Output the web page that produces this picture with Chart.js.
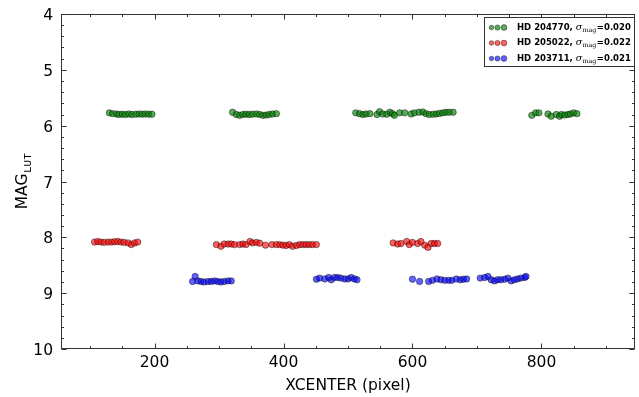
<!DOCTYPE html>
<html>
<head>
<meta charset="utf-8">
<script src="https://cdn.jsdelivr.net/npm/chart.js@4.4.1/dist/chart.umd.min.js"></script>
<style>
  html, body { margin: 0; padding: 0; background: #fff; }
  #wrap { position: relative; width: 639px; height: 397px; }
</style>
</head>
<body>
<div id="wrap"><canvas id="c" width="639" height="397"></canvas></div>
<script>
// Photometry of three stars: LUT magnitude vs. detector x-centre position
const starNames = ['HD 204770', 'HD 205022', 'HD 203711'];
const sigmaMag  = ['0.020', '0.022', '0.021'];

const xTicks = [200, 400, 600, 800];
const yTicks = [4, 5, 6, 7, 8, 9, 10];

// HD 204770
const greenX = [130,135,141,145,150,155,160,165,171,176,181,186,191,196,
                321,327,332,337,342,347,352,358,363,368,373,378,383,389,
                512,518,523,528,534,545,549,554,560,565,569,572,580,588,598,603,610,616,621,626,632,637,642,647,652,657,663,
                785,791,796,810,815,823,828,831,836,841,845,850,855];
const greenY = [5.77,5.785,5.79,5.80,5.795,5.80,5.79,5.80,5.795,5.79,5.795,5.79,5.795,5.795,
                5.76,5.80,5.815,5.80,5.795,5.80,5.795,5.79,5.80,5.815,5.81,5.80,5.79,5.785,
                5.77,5.785,5.80,5.79,5.785,5.80,5.75,5.79,5.795,5.76,5.785,5.815,5.77,5.77,5.79,5.77,5.76,5.755,5.785,5.80,5.795,5.79,5.78,5.77,5.76,5.76,5.76,
                5.815,5.77,5.77,5.79,5.83,5.80,5.83,5.80,5.81,5.80,5.79,5.77,5.785];

// HD 205022
const redX = [107,112,117,122,128,133,138,143,148,153,159,164,169,174,
              296,303,308,314,319,324,332,337,342,348,352,358,363,372,
              382,389,394,399,404,409,414,420,425,430,435,440,445,451,
              570,577,582,591,595,600,608,613,619,624,629,634,639];
const redY = [8.085,8.075,8.085,8.09,8.085,8.085,8.08,8.075,8.085,8.09,8.10,8.13,8.10,8.085,
              8.13,8.16,8.12,8.12,8.12,8.13,8.13,8.12,8.13,8.075,8.10,8.09,8.105,8.14,
              8.13,8.13,8.13,8.14,8.145,8.13,8.16,8.145,8.13,8.13,8.13,8.13,8.13,8.13,
              8.10,8.12,8.11,8.075,8.13,8.09,8.11,8.075,8.14,8.18,8.11,8.11,8.11];

// HD 203711
const blueX = [259,263,267,272,277,283,288,293,298,303,308,314,319,
               451,456,464,470,474,479,484,489,495,500,505,510,514,
               600,611,625,631,638,644,650,656,661,668,674,679,684,
               705,712,717,722,727,732,737,743,748,753,758,763,768,774,776];
const blueY = [8.79,8.70,8.78,8.79,8.80,8.79,8.79,8.78,8.79,8.80,8.79,8.78,8.78,
               8.75,8.73,8.745,8.72,8.76,8.72,8.72,8.73,8.745,8.745,8.72,8.745,8.76,
               8.75,8.79,8.79,8.77,8.745,8.76,8.77,8.77,8.77,8.745,8.76,8.75,8.745,
               8.73,8.72,8.70,8.76,8.78,8.76,8.76,8.75,8.73,8.78,8.76,8.745,8.73,8.72,8.70];

const fills = ['rgba(0,128,0,0.65)', 'rgba(255,0,0,0.62)', 'rgba(0,0,255,0.62)'];
const edge = 'rgba(0,0,0,0.55)';
const FONT = '"DejaVu Sans", sans-serif';

function pts(xs, ys) { return xs.map((x, i) => ({ x, y: ys[i] })); }

const series = [pts(greenX, greenY), pts(redX, redY), pts(blueX, blueY)];

// Frame, inward ticks (all four sides), axis titles and legend box
const decor = {
  id: 'decor',
  afterDatasetsDraw(chart) {
    const { ctx, chartArea: a, scales: { x, y } } = chart;
    ctx.save();
    ctx.strokeStyle = '#333';
    ctx.lineWidth = 1;
    const L = Math.round(a.left) + 0.5, R = Math.round(a.right) - 0.5;
    const T = Math.round(a.top) + 0.5, B = Math.round(a.bottom) - 0.5;
    ctx.strokeRect(L, T, R - L, B - T);

    ctx.beginPath();
    // x ticks: major every 200, minor every 50
    for (let v = 50; v <= x.max; v += 50) {
      if (v < x.min) continue;
      const px = Math.round(x.getPixelForValue(v)) + 0.5;
      const len = (v % 200 === 0) ? 5 : 2.5;
      ctx.moveTo(px, B); ctx.lineTo(px, B - len);
      ctx.moveTo(px, T); ctx.lineTo(px, T + len);
    }
    // y ticks: major every 1, minor every 0.2
    for (let k = 0; k <= 30; k++) {
      const v = 4 + k * 0.2;
      const py = Math.round(y.getPixelForValue(v)) + 0.5;
      const len = (k % 5 === 0) ? 5 : 2.5;
      ctx.moveTo(L, py); ctx.lineTo(L + len, py);
      ctx.moveTo(R, py); ctx.lineTo(R - len, py);
    }
    ctx.stroke();
    ctx.restore();
  },
  afterDraw(chart) {
    const { ctx, chartArea: a } = chart;
    ctx.save();
    ctx.fillStyle = '#000';
    ctx.textBaseline = 'alphabetic';

    // x-axis title
    ctx.font = '15.5px ' + FONT;
    ctx.textAlign = 'center';
    ctx.fillText('XCENTER (pixel)', (a.left + a.right) / 2, 390);

    // y-axis title with subscript
    const cy = (a.top + a.bottom) / 2;
    ctx.font = '15.5px ' + FONT;
    const wMain = ctx.measureText('MAG').width;
    ctx.font = '11px "Liberation Mono", monospace';
    const wSub = ctx.measureText('LUT').width;
    ctx.translate(27, cy + (wMain + wSub) / 2);
    ctx.rotate(-Math.PI / 2);
    ctx.textAlign = 'left';
    ctx.font = '15.5px ' + FONT;
    ctx.fillText('MAG', 0, 0);
    ctx.font = '11px "Liberation Mono", monospace';
    ctx.fillText('LUT', wMain + 0.5, 4);
    ctx.setTransform(1, 0, 0, 1, 0, 0);

    // legend
    const lx = 484.5, ly = 17.5, lw = 150, lh = 49;
    ctx.fillStyle = '#fff';
    ctx.fillRect(lx, ly, lw, lh);
    ctx.strokeStyle = '#333';
    ctx.lineWidth = 1;
    ctx.strokeRect(lx, ly, lw, lh);
    const rowsY = [27.5, 43, 58.5];
    const dotX = [491.5, 497.5, 504];
    const dotR = [2.3, 2.6, 2.9];
    for (let i = 0; i < 3; i++) {
      const ry = rowsY[i];
      for (let j = 0; j < 3; j++) {
        ctx.beginPath();
        ctx.arc(dotX[j], ry, dotR[j], 0, Math.PI * 2);
        ctx.fillStyle = fills[i];
        ctx.fill();
        ctx.strokeStyle = edge;
        ctx.lineWidth = 0.7;
        ctx.stroke();
      }
      ctx.fillStyle = '#000';
      ctx.textBaseline = 'middle';
      let tx = 517;
      ctx.font = 'bold 8.5px ' + FONT;
      const t1 = starNames[i] + ', ';
      ctx.fillText(t1, tx, ry);
      tx += ctx.measureText(t1).width;
      ctx.font = 'italic 9.5px "DejaVu Serif", serif';
      ctx.fillText('\u03C3', tx, ry);
      tx += ctx.measureText('\u03C3').width + 0.3;
      ctx.font = '6.3px "DejaVu Serif", serif';
      ctx.fillText('mag', tx, ry + 2.5);
      tx += ctx.measureText('mag').width + 0.5;
      ctx.font = 'bold 8.5px ' + FONT;
      ctx.fillText('=' + sigmaMag[i], tx, ry);
    }
    ctx.restore();
  }
};

new Chart(document.getElementById('c'), {
  type: 'scatter',
  data: {
    datasets: series.map((d, i) => ({
      label: starNames[i],
      data: d,
      backgroundColor: fills[i],
      borderColor: edge,
      borderWidth: 0.8,
      pointRadius: 3.2,
      pointHoverRadius: 3.2
    }))
  },
  options: {
    responsive: false,
    animation: false,
    devicePixelRatio: 1,
    layout: { padding: { top: 14, right: 3, left: 0, bottom: 0 } },
    plugins: { legend: { display: false }, tooltip: { enabled: false } },
    scales: {
      x: {
        type: 'linear', min: 55, max: 945,
        afterBuildTicks: s => { s.ticks = xTicks.map(v => ({ value: v })); },
        afterFit: s => { s.height = 48; s.paddingLeft = 0; s.paddingRight = 0; },
        grid: { display: false, drawTicks: false },
        border: { display: false },
        ticks: { font: { family: FONT, size: 15.5 }, color: '#000', padding: 5, maxRotation: 0 }
      },
      y: {
        type: 'linear', min: 4, max: 10, reverse: true,
        afterBuildTicks: s => { s.ticks = yTicks.map(v => ({ value: v })); },
        afterFit: s => { s.width = 61; s.paddingTop = 0; s.paddingBottom = 0; },
        grid: { display: false, drawTicks: false },
        border: { display: false },
        ticks: { font: { family: FONT, size: 15.5 }, color: '#000', padding: 8, labelOffset: 2 }
      }
    }
  },
  plugins: [decor]
});
</script>
</body>
</html>
